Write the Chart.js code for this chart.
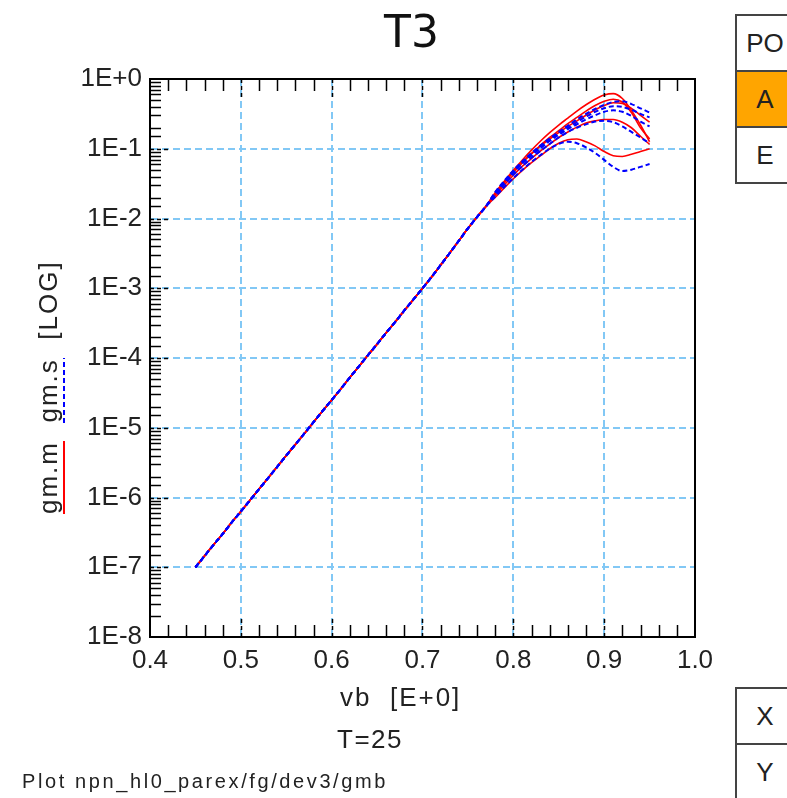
<!DOCTYPE html>
<html>
<head>
<meta charset="utf-8">
<script src="https://cdn.jsdelivr.net/npm/chart.js@4.4.0/dist/chart.umd.min.js"></script>
<style>
  body { margin: 0; background: #fff; }
  #wrap { position: relative; width: 787px; height: 798px; overflow: hidden;
          font-family: "Liberation Sans", Arial, sans-serif; color: #222; }
  #plot { position: absolute; left: 0; top: 0; }
  .txt { position: absolute; white-space: pre; line-height: 1; }
  #title { font-family: "DejaVu Sans", sans-serif; font-size: 44px; left: 384px; top: 10px; color: #111; }
  #xtitle { font-size: 26px; letter-spacing: 2px; left: 340px; top: 684px; }
  #temp { font-size: 26px; letter-spacing: 1.5px; left: 337px; top: 726px; }
  #caption { font-size: 20px; letter-spacing: 2.6px; left: 22px; top: 771px; }
  #ytitle { font-size: 26px; letter-spacing: 2px; left: 35px; top: 514px;
            transform-origin: 0 0; transform: rotate(-90deg); }
  #ytitle .m { border-bottom: 2px solid #ff0000; }
  #ytitle .s { padding-bottom: 2px;
               background: repeating-linear-gradient(90deg, #0000ff 0 5px, transparent 5px 8px) left bottom / 100% 2px no-repeat; }
  .panel { position: absolute; left: 735px; width: 56px; border: 2px solid #444; background: #fff; }
  .cell { height: 54px; line-height: 54px; text-align: center; font-size: 26px; color: #222; }
  .cell + .cell { border-top: 2px solid #444; }
  .on { background: #ffa500; }
</style>
</head>
<body>
<div id="wrap">
  <canvas id="plot" width="787" height="798"></canvas>
  <div class="txt" id="title">T3</div>
  <div class="txt" id="ytitle"><span class="m">gm.m</span>  <span class="s">gm.s</span>  [LOG]</div>
  <div class="txt" id="xtitle">vb  [E+0]</div>
  <div class="txt" id="temp">T=25</div>
  <div class="txt" id="caption">Plot npn_hl0_parex/fg/dev3/gmb</div>
  <div class="panel" style="top:14px">
    <div class="cell">PO</div>
    <div class="cell on">A</div>
    <div class="cell">E</div>
  </div>
  <div class="panel" style="top:687px">
    <div class="cell">X</div>
    <div class="cell">Y</div>
  </div>
</div>
<script>
// x values (vb), shared by every curve
const vb = [0.45, 0.46, 0.47, 0.48, 0.49, 0.50, 0.51, 0.52, 0.53, 0.54, 0.55, 0.56, 0.57,
  0.58, 0.59, 0.60, 0.61, 0.62, 0.63, 0.64, 0.65, 0.66, 0.67, 0.68, 0.69, 0.70, 0.71,
  0.72, 0.73, 0.74, 0.75, 0.76, 0.77, 0.78, 0.79, 0.80, 0.81, 0.82, 0.83, 0.84, 0.85,
  0.86, 0.87, 0.88, 0.89, 0.90, 0.91, 0.92, 0.93, 0.94, 0.95];

// common part of all curves, vb = 0.45 .. 0.77
const gmLow = [1.0e-7, 1.45e-7, 2.1e-7, 3.0e-7, 4.4e-7, 6.3e-7, 9.1e-7, 1.32e-6, 1.9e-6,
  2.75e-6, 4.0e-6, 5.75e-6, 8.3e-6, 1.2e-5, 1.74e-5, 2.5e-5, 3.6e-5, 5.25e-5, 7.6e-5,
  1.1e-4, 1.58e-4, 2.3e-4, 3.3e-4, 4.8e-4, 6.9e-4, 1.0e-3, 1.45e-3, 2.15e-3, 3.2e-3,
  4.8e-3, 7.2e-3, 1.05e-2, 1.5e-2];

// high-current part, vb = 0.78 .. 0.95 -- measured (gm.m)
const gmM1 = [0.0229, 0.0339, 0.049, 0.069, 0.0955, 0.129, 0.17, 0.219, 0.275, 0.347, 0.427, 0.513, 0.589, 0.617, 0.525, 0.355, 0.219, 0.126];
const gmM2 = [0.0224, 0.0324, 0.0457, 0.0631, 0.0851, 0.112, 0.145, 0.182, 0.229, 0.282, 0.347, 0.417, 0.479, 0.513, 0.468, 0.331, 0.2, 0.138];
const gmM3 = [0.0234, 0.0339, 0.0479, 0.0646, 0.0851, 0.11, 0.138, 0.17, 0.209, 0.251, 0.302, 0.363, 0.417, 0.457, 0.447, 0.38, 0.302, 0.24];
const gmM4 = [0.0214, 0.0302, 0.0417, 0.0562, 0.0724, 0.0933, 0.117, 0.145, 0.174, 0.204, 0.234, 0.251, 0.263, 0.263, 0.24, 0.2, 0.151, 0.115];
const gmM5 = [0.02, 0.0275, 0.0372, 0.049, 0.0631, 0.0794, 0.1, 0.12, 0.135, 0.138, 0.126, 0.11, 0.0912, 0.0794, 0.0776, 0.0832, 0.0912, 0.1];

// simulated (gm.s)
const gmS1 = [0.024, 0.0347, 0.049, 0.0661, 0.0871, 0.112, 0.141, 0.174, 0.214, 0.263, 0.316, 0.372, 0.427, 0.468, 0.479, 0.437, 0.38, 0.331];
const gmS2 = [0.0234, 0.0339, 0.0468, 0.0631, 0.0832, 0.107, 0.135, 0.166, 0.2, 0.24, 0.288, 0.339, 0.38, 0.407, 0.398, 0.363, 0.316, 0.282];
const gmS3 = [0.0229, 0.0331, 0.0457, 0.0617, 0.0794, 0.102, 0.129, 0.158, 0.191, 0.224, 0.263, 0.302, 0.339, 0.355, 0.339, 0.295, 0.245, 0.209];
const gmS4 = [0.0219, 0.0309, 0.0427, 0.0562, 0.0741, 0.0933, 0.117, 0.145, 0.174, 0.2, 0.224, 0.245, 0.251, 0.24, 0.209, 0.174, 0.145, 0.12];
const gmS5 = [0.0204, 0.0282, 0.038, 0.0501, 0.0646, 0.0813, 0.1, 0.117, 0.126, 0.12, 0.105, 0.0871, 0.0692, 0.055, 0.0479, 0.0501, 0.055, 0.0603];

const xMin = 0.4, xMax = 1.0, yMin = 1e-8, yMax = 1;

function series(tail) {
  const ys = gmLow.concat(tail);
  return vb.map((v, i) => ({ x: v, y: ys[i] }));
}

function isDecade(v) {
  const e = Math.log10(v);
  return Math.abs(e - Math.round(e)) < 1e-9;
}
function isTenth(v) {
  return Math.abs(v * 10 - Math.round(v * 10)) < 1e-6;
}

const GRID = '#82c8f5';

const redSet = (tail) => ({
  data: series(tail), borderColor: '#ff0000', borderWidth: 1.6,
  pointRadius: 0, cubicInterpolationMode: 'monotone', order: 2
});
const blueSet = (tail) => ({
  data: series(tail), borderColor: '#0000ff', borderWidth: 2, borderDash: [5, 3],
  pointRadius: 0, cubicInterpolationMode: 'monotone', order: 1
});

// inward tick marks and the frame
const frame = {
  id: 'frame',
  afterDraw(chart) {
    const { ctx, chartArea: a, scales: { x, y } } = chart;
    ctx.save();
    ctx.strokeStyle = '#000';
    x.ticks.forEach(t => {
      const v = t.value;
      if (v <= xMin + 1e-9 || v >= xMax - 1e-9) return;
      const px = Math.round(x.getPixelForValue(v)) + 0.5;
      const major = isTenth(v);
      ctx.lineWidth = 1.5;
      ctx.setLineDash(major ? [4, 3] : []);
      const len = major ? 20 : 12;
      ctx.beginPath();
      ctx.moveTo(px, a.bottom); ctx.lineTo(px, a.bottom - len);
      ctx.moveTo(px, a.top); ctx.lineTo(px, a.top + len);
      ctx.stroke();
    });
    y.ticks.forEach(t => {
      const v = t.value;
      if (v <= yMin * 1.0001 || v >= yMax * 0.9999) return;
      const py = Math.round(y.getPixelForValue(v)) + 0.5;
      const major = isDecade(v);
      ctx.lineWidth = 1.5;
      ctx.setLineDash(major ? [4, 3] : []);
      ctx.beginPath();
      ctx.moveTo(a.left, py); ctx.lineTo(a.left + (major ? 20 : 11), py);
      ctx.stroke();
    });
    ctx.setLineDash([]);
    ctx.lineWidth = 2;
    ctx.strokeRect(a.left, a.top, a.right - a.left, a.bottom - a.top);
    ctx.restore();
  }
};

new Chart(document.getElementById('plot'), {
  type: 'line',
  data: {
    datasets: [
      redSet(gmM1), redSet(gmM2), redSet(gmM3), redSet(gmM4), redSet(gmM5),
      blueSet(gmS1), blueSet(gmS2), blueSet(gmS3), blueSet(gmS4), blueSet(gmS5)
    ]
  },
  options: {
    responsive: false,
    animation: false,
    layout: { padding: { left: 0, right: 92, top: 79, bottom: 0 } },
    plugins: { legend: { display: false }, tooltip: { enabled: false }, title: { display: false } },
    scales: {
      x: {
        type: 'linear', min: xMin, max: xMax,
        afterFit: s => { s.height = 161; },
        ticks: {
          stepSize: 0.02, autoSkip: false, maxRotation: 0, padding: 8,
          color: '#222', font: { family: 'Liberation Sans', size: 26 },
          callback: v => isTenth(v) ? v.toFixed(1) : ''
        },
        grid: {
          drawTicks: false, lineWidth: 2,
          color: c => {
            const v = c.tick ? c.tick.value : xMin;
            return (isTenth(v) && v > xMin + 1e-9 && v < xMax - 1e-9) ? GRID : 'rgba(0,0,0,0)';
          }
        },
        border: { display: true, color: '#000', width: 2, dash: [7, 4] }
      },
      y: {
        type: 'logarithmic', min: yMin, max: yMax,
        afterFit: s => { s.width = 150; },
        ticks: {
          autoSkip: false, padding: 8,
          color: '#222', font: { family: 'Liberation Sans', size: 26 },
          callback: v => {
            if (!isDecade(v)) return '';
            const e = Math.round(Math.log10(v));
            return '1E' + (e >= 0 ? '+' + e : e);
          }
        },
        grid: {
          drawTicks: false, lineWidth: 2,
          color: c => {
            const v = c.tick ? c.tick.value : yMin;
            return (isDecade(v) && v > yMin * 1.0001 && v < yMax * 0.9999) ? GRID : 'rgba(0,0,0,0)';
          }
        },
        border: { display: true, color: '#000', width: 2, dash: [7, 4] }
      }
    }
  },
  plugins: [frame]
});
</script>
</body>
</html>
